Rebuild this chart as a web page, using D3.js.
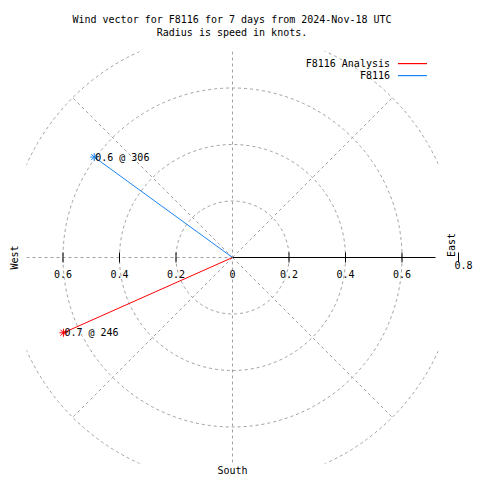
<!DOCTYPE html>
<html><head><meta charset="utf-8">
<script src="https://cdn.jsdelivr.net/npm/d3@7"></script>
<style>body{margin:0;background:#fff}svg{display:block}text{font-family:"DejaVu Sans Mono",monospace;font-size:10px;fill:#000}</style>
</head><body>
<script>
const titleLines = ["Wind vector for F8116 for 7 days from 2024-Nov-18 UTC", "Radius is speed in knots."];
const seriesNames = ["F8116 Analysis", "F8116"];
const seriesColors = ["#ff0000", "#1985f5"];
const speeds = [0.655, 0.605];
const directions = [246, 306];
const ringValues = [0.2, 0.4, 0.6, 0.8];
const tickValues = [0.2, 0.4, 0.6];
const spokeAngles = [45, 135, 225, 315];

const W = 480, H = 480, cx = 232.5, cy = 257.5;
const svg = d3.select("body").append("svg").attr("width", W).attr("height", H);
const r = d3.scaleLinear().domain([0, 0.8]).range([0, 226]);
const half = 206;
const pt = (spd, bearing) => { const a = (bearing - 90) * Math.PI / 180; return [cx + r(spd) * Math.cos(a), cy + r(spd) * Math.sin(a)]; };

svg.append("defs").append("clipPath").attr("id", "clip").append("rect")
  .attr("x", cx - half).attr("y", cy - half).attr("width", 2 * half).attr("height", 2 * half);

const grid = svg.append("g").attr("clip-path", "url(#clip)")
  .attr("fill", "none").attr("stroke", "#a0a0a0").attr("stroke-width", 1).attr("stroke-dasharray", "3,3");
grid.selectAll("circle").data(ringValues).join("circle").attr("cx", cx).attr("cy", cy).attr("r", d => r(d));
grid.selectAll("line.sp").data(spokeAngles).join("line").attr("class", "sp")
  .attr("x1", cx).attr("y1", cy)
  .attr("x2", d => cx + r(0.8) * Math.cos(d * Math.PI / 180))
  .attr("y2", d => cy - r(0.8) * Math.sin(d * Math.PI / 180));
grid.append("line").attr("x1", cx).attr("x2", cx).attr("y1", cy - half).attr("y2", cy + half);
grid.append("line").attr("x1", cx - half).attr("x2", cx).attr("y1", cy).attr("y2", cy);

// axis
svg.append("line").attr("x1", cx).attr("x2", cx + half - 3).attr("y1", cy).attr("y2", cy).style("stroke", "#000");
const ticksR = tickValues.concat([0.8]);
svg.selectAll("line.tr").data(ticksR).join("line").attr("class", "tr")
  .attr("x1", d => cx + r(d)).attr("x2", d => cx + r(d)).attr("y1", cy - 5).attr("y2", cy + 5).style("stroke", "#000");
svg.selectAll("line.tl").data(tickValues).join("line").attr("class", "tl")
  .attr("x1", d => cx - r(d)).attr("x2", d => cx - r(d)).attr("y1", cy - 5).attr("y2", cy + 5).style("stroke", "#000");
const fmt = d3.format(".1f");
svg.selectAll("text.tlr").data(tickValues).join("text").attr("class", "tlr")
  .attr("x", d => cx + r(d)).attr("y", cy + 20).attr("text-anchor", "middle").text(d => fmt(d));
svg.selectAll("text.tll").data(tickValues).join("text").attr("class", "tll")
  .attr("x", d => cx - r(d)).attr("y", cy + 20).attr("text-anchor", "middle").text(d => fmt(d));
svg.append("text").attr("x", cx).attr("y", cy + 20).attr("text-anchor", "middle").text("0");
svg.append("text").attr("x", cx + r(0.8) - 4).attr("y", cy + 11).attr("text-anchor", "start").text(fmt(0.8));

// axis labels
svg.append("text").attr("transform", `translate(18,${cy}) rotate(-90)`).attr("text-anchor", "middle").text("West");
svg.append("text").attr("transform", `translate(455,245) rotate(-90)`).attr("text-anchor", "middle").text("East");
svg.append("text").attr("x", cx).attr("y", 474).attr("text-anchor", "middle").text("South");

// title
svg.selectAll("text.title").data(titleLines).join("text").attr("class", "title")
  .attr("x", 232).attr("y", (d, i) => 23 + i * 13).attr("text-anchor", "middle").text(d => d);

// legend
const leg = svg.selectAll("g.leg").data(seriesNames).join("g").attr("class", "leg")
  .attr("transform", (d, i) => `translate(0,${63 + i * 12})`);
leg.append("text").attr("x", 390).attr("y", 4).attr("text-anchor", "end").text(d => d);
leg.append("rect").attr("x", 398).attr("y", 0).attr("width", 29).attr("height", 1.2)
  .attr("fill", (d, i) => seriesColors[seriesNames.indexOf(d)]);

// vectors
speeds.forEach((s, i) => {
  const [x, y] = pt(s, directions[i]);
  const g = svg.append("g").style("stroke", seriesColors[i]);
  g.append("line").attr("x1", cx).attr("y1", cy).attr("x2", x).attr("y2", y);
  const k = 4;
  g.append("path").attr("d", `M${x-k},${y}H${x+k}M${x},${y-k}V${y+k}M${x-3},${y-3}L${x+3},${y+3}M${x-3},${y+3}L${x+3},${y-3}`);
  svg.append("text").attr("x", x + 1).attr("y", y + 3.5).text(`${fmt(s)} @ ${directions[i]}`);
});
</script>
</body></html>
